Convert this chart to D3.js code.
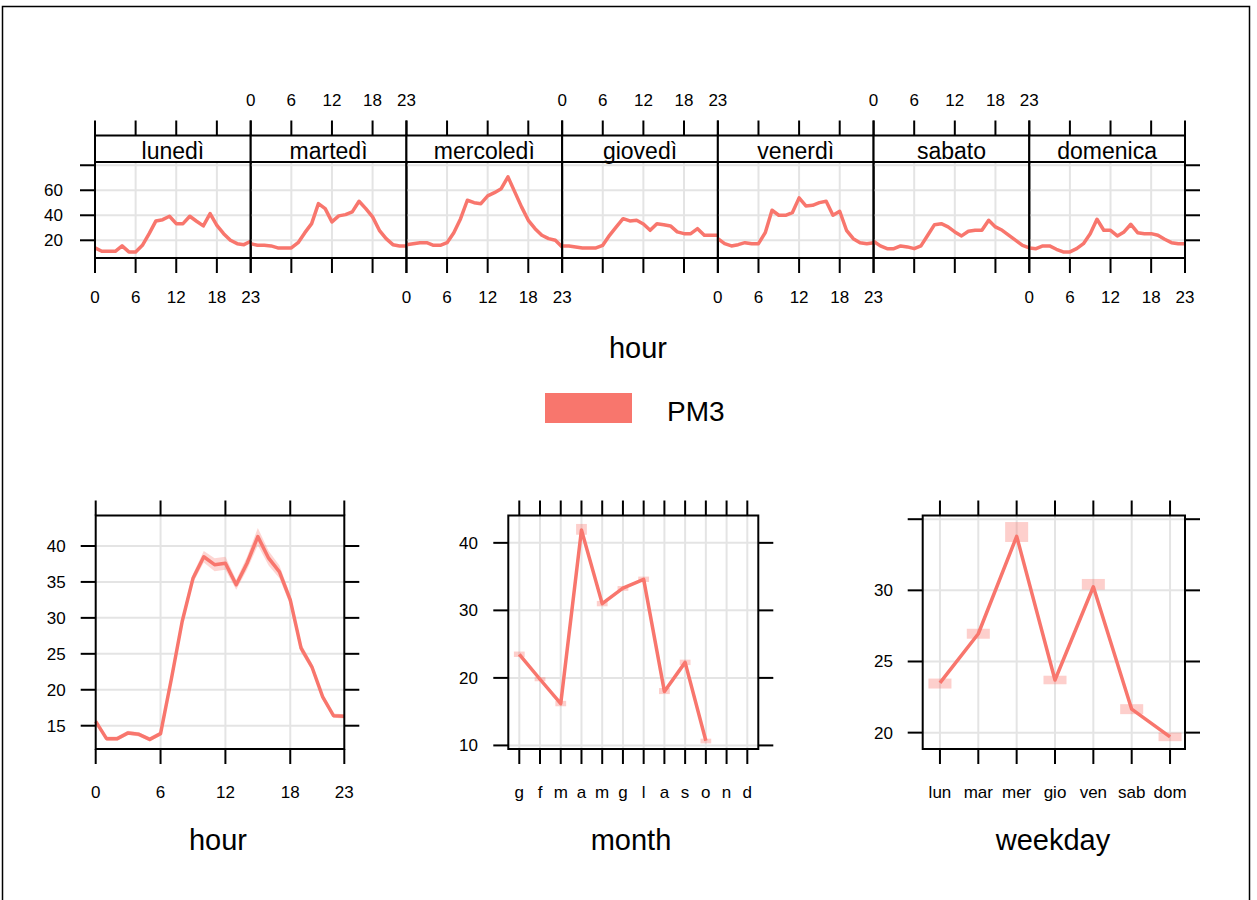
<!DOCTYPE html>
<html>
<head>
<meta charset="utf-8">
<script src="https://cdn.jsdelivr.net/npm/d3@7/dist/d3.min.js"></script>
<style>
  body { margin: 0; background: #fff; }
  text { font-family: "Liberation Sans", Arial, sans-serif; fill: #000; }
</style>
</head>
<body>
<svg id="chart" width="1257" height="900"></svg>
<script>
// ---- data ----
const hours = [0, 1, 2, 3, 4, 5, 6, 7, 8, 9, 10, 11, 12, 13, 14, 15, 16, 17, 18, 19, 20, 21, 22, 23];
const hourTicks = [0, 6, 12, 18, 23];
const dayNames = ['lunedì', 'martedì', 'mercoledì', 'giovedì', 'venerdì', 'sabato', 'domenica'];

const lunedi = [13.9, 11.2, 11.2, 11.2, 15.5, 10.7, 10.7, 16, 25.3, 35.5, 36.5, 39.2, 33.3, 33.3, 39.2, 35.2, 31.5, 41.3, 32, 25.3, 20, 17.3, 16.5, 19.2];
const martedi = [17.3, 16, 16, 15.5, 13.9, 13.9, 13.9, 18.1, 26.1, 33.3, 49.3, 45.3, 34.7, 39.5, 40.5, 42.7, 51.2, 45.3, 38.7, 28, 21.3, 16.5, 15.5, 15.5];
const mercoledi = [16.5, 17.3, 18.1, 18.1, 16, 16, 18.1, 26.1, 37.3, 52, 50.1, 49.3, 55.5, 58.1, 61.3, 70.7, 58.7, 46.7, 36, 29.3, 24, 21.3, 20, 14.7];
const giovedi = [15.5, 15.5, 14.7, 13.9, 13.9, 13.9, 16, 24, 30.7, 37.3, 35.5, 36, 33, 28, 33.3, 32.5, 31.5, 26.7, 25.3, 25.3, 29.3, 24, 24, 24];
const venerdi = [21.3, 17.3, 15.5, 16.5, 18.1, 17.3, 17.3, 26.1, 44, 40, 40, 42.1, 53.9, 47.5, 48, 50.1, 51.2, 40, 43.2, 28, 21.3, 18.1, 17.3, 18.1];
const sabato = [19.2, 15.5, 13.3, 13.3, 15.5, 14.7, 13.3, 15.5, 24, 32.5, 33.3, 30.7, 26.7, 23.5, 27.2, 28, 28, 36, 30.7, 28, 24, 20, 16, 13.9];
const domenica = [13.9, 13.3, 15.5, 15.5, 12.8, 10.7, 10.7, 13.3, 17.3, 25.3, 36.8, 28, 28, 23.5, 26.7, 32.8, 26.1, 25.3, 25.3, 24, 20.8, 18.1, 17.3, 17.3];
const dayValues = [lunedi, martedi, mercoledi, giovedi, venerdi, sabato, domenica];
const dayYTicks = [20, 40, 60, 80];
const dayYLabels = ['20', '40', '60', ''];

const hourMean = [15.6, 13.2, 13.2, 14.0, 13.8, 13.1, 13.9, 21.5, 29.5, 35.5, 38.5, 37.4, 37.6, 34.6, 37.6, 41.3, 38.3, 36.4, 32.5, 25.8, 23.2, 19.0, 16.4, 16.3];
const hourCI = [0.4, 0.3, 0.3, 0.3, 0.3, 0.3, 0.3, 0.4, 0.5, 0.6, 0.8, 0.9, 0.9, 0.7, 0.9, 1.2, 1.0, 0.9, 0.7, 0.6, 0.5, 0.4, 0.3, 0.3];
const hourYTicks = [15, 20, 25, 30, 35, 40];

const monthLabels = ['g', 'f', 'm', 'a', 'm', 'g', 'l', 'a', 's', 'o', 'n', 'd'];
const monthMean = [23.5, 19.8, 16.2, 41.9, 31.0, 33.3, 34.6, 18.0, 22.3, 10.7, null, null];
const monthLower = [23.1, 19.5, 15.8, 41.2, 30.6, 32.9, 34.2, 17.6, 21.9, 10.3, null, null];
const monthUpper = [23.9, 20.1, 16.6, 42.8, 31.4, 33.6, 35.0, 18.5, 22.7, 11.0, null, null];
const monthYTicks = [10, 20, 30, 40];

const weekdayLabels = ['lun', 'mar', 'mer', 'gio', 'ven', 'sab', 'dom'];
const weekdayMean = [23.5, 26.95, 33.8, 23.7, 30.25, 21.65, 19.7];
const weekdayLower = [23.1, 26.6, 33.4, 23.4, 30.05, 21.3, 19.4];
const weekdayUpper = [23.8, 27.3, 34.8, 24.0, 30.8, 22.0, 20.0];
const weekdayYTicks = [20, 25, 30, 35];
const weekdayYLabels = ['20', '25', '30', ''];

const seriesName = 'PM3';
const colour = '#F8766D';

// ---- drawing ----
const svg = d3.select('#chart');
const TICK = 15;
const GRID = '#e4e4e4';
const LINE_W = 3.5;

svg.append('rect')
  .attr('x', 2.5).attr('y', 6.5)
  .attr('width', 1247).attr('height', 900)
  .attr('fill', 'none').attr('stroke', '#000').attr('stroke-width', 1.5);

function grid(g, xs, ys, xVals, yVals) {
  const [x0, x1] = xs.range();
  const [y0, y1] = ys.range();
  g.selectAll(null).data(xVals).enter().append('line')
    .attr('x1', d => xs(d)).attr('x2', d => xs(d))
    .attr('y1', y0).attr('y2', y1)
    .attr('stroke', GRID).attr('stroke-width', 2);
  g.selectAll(null).data(yVals).enter().append('line')
    .attr('x1', x0).attr('x2', x1)
    .attr('y1', d => ys(d)).attr('y2', d => ys(d))
    .attr('stroke', GRID).attr('stroke-width', 2);
}

function xTicks(g, xs, vals, y, dir) {
  g.selectAll(null).data(vals).enter().append('line')
    .attr('x1', d => xs(d)).attr('x2', d => xs(d))
    .attr('y1', y).attr('y2', y + dir * TICK)
    .attr('stroke', '#000').attr('stroke-width', 2);
}

function yTicks(g, ys, vals, x, dir) {
  g.selectAll(null).data(vals).enter().append('line')
    .attr('x1', x).attr('x2', x + dir * TICK)
    .attr('y1', d => ys(d)).attr('y2', d => ys(d))
    .attr('stroke', '#000').attr('stroke-width', 2);
}

function xLabels(g, xs, vals, labels, y) {
  g.selectAll(null).data(vals).enter().append('text')
    .attr('x', d => xs(d)).attr('y', y)
    .attr('text-anchor', 'middle').attr('font-size', 17)
    .text((d, i) => labels[i]);
}

function yLabels(g, ys, vals, labels, x) {
  g.selectAll(null).data(vals).enter().append('text')
    .attr('x', x).attr('y', d => ys(d) + 6)
    .attr('text-anchor', 'end').attr('font-size', 17)
    .text((d, i) => labels[i]);
}

function frame(g, xs, ys) {
  const [x0, x1] = xs.range();
  const [y0, y1] = ys.range();
  g.append('rect')
    .attr('x', x0).attr('y', y1)
    .attr('width', x1 - x0).attr('height', y0 - y1)
    .attr('fill', 'none').attr('stroke', '#000').attr('stroke-width', 2);
}

// top: hour by weekday
const topG = svg.append('g');
const stripLeft = 95, stripRight = 1185;
const panelW = (stripRight - stripLeft) / dayNames.length;
const dayY = d3.scaleLinear().domain([5.84, 82.6]).range([258, 162]);

dayNames.forEach((name, i) => {
  const x0 = stripLeft + i * panelW;
  const xs = d3.scaleLinear().domain([0, 23]).range([x0, x0 + panelW]);
  const g = topG.append('g');
  grid(g, xs, dayY, [6, 12, 18], dayYTicks);

  g.append('path')
    .datum(dayValues[i])
    .attr('fill', 'none').attr('stroke', colour).attr('stroke-width', LINE_W)
    .attr('stroke-linejoin', 'round')
    .attr('d', d3.line().x((d, j) => xs(hours[j])).y(d => dayY(d)));

  frame(g, xs, dayY);

  // strip
  g.append('rect')
    .attr('x', x0).attr('y', 135.5)
    .attr('width', panelW).attr('height', 26.5)
    .attr('fill', '#fff').attr('stroke', '#000').attr('stroke-width', 2);
  g.append('text')
    .attr('x', x0 + panelW / 2).attr('y', 158.5)
    .attr('text-anchor', 'middle').attr('font-size', 23)
    .text(name);

  xTicks(g, xs, hourTicks, 135.5, -1);
  xTicks(g, xs, hourTicks, 258, 1);
  if (i % 2 === 0) xLabels(g, xs, hourTicks, hourTicks.map(String), 303);
  else xLabels(g, xs, hourTicks, hourTicks.map(String), 106);

  if (i === 0) {
    yTicks(g, dayY, dayYTicks, x0, -1);
    yLabels(g, dayY, dayYTicks, dayYLabels, 63);
  }
  if (i === dayNames.length - 1) yTicks(g, dayY, dayYTicks, x0 + panelW, 1);
});

topG.append('text')
  .attr('x', 638).attr('y', 358)
  .attr('text-anchor', 'middle').attr('font-size', 29)
  .text('hour');

// legend
svg.append('rect')
  .attr('x', 545).attr('y', 393).attr('width', 87).attr('height', 30)
  .attr('fill', colour);
svg.append('text')
  .attr('x', 667).attr('y', 421).attr('font-size', 28)
  .text(seriesName);

// bottom panels
const bottomY = [749, 515.5];

// hour
{
  const g = svg.append('g');
  const xs = d3.scaleLinear().domain([0, 23]).range([95.7, 344.3]);
  const ys = d3.scaleLinear().domain([11.76, 44.24]).range(bottomY);
  grid(g, xs, ys, [6, 12, 18], hourYTicks);
  g.append('path')
    .datum(hourMean)
    .attr('fill', colour).attr('fill-opacity', 0.3)
    .attr('d', d3.area()
      .x((d, j) => xs(hours[j]))
      .y0((d, j) => ys(d - hourCI[j]))
      .y1((d, j) => ys(d + hourCI[j])));
  g.append('path')
    .datum(hourMean)
    .attr('fill', 'none').attr('stroke', colour).attr('stroke-width', LINE_W)
    .attr('stroke-linejoin', 'round')
    .attr('d', d3.line().x((d, j) => xs(hours[j])).y(d => ys(d)));
  frame(g, xs, ys);
  xTicks(g, xs, hourTicks, 749, 1);
  xTicks(g, xs, hourTicks, 515.5, -1);
  yTicks(g, ys, hourYTicks, 95.7, -1);
  yTicks(g, ys, hourYTicks, 344.3, 1);
  xLabels(g, xs, hourTicks, hourTicks.map(String), 798);
  yLabels(g, ys, hourYTicks, hourYTicks.map(String), 65.7);
  g.append('text')
    .attr('x', 218).attr('y', 850)
    .attr('text-anchor', 'middle').attr('font-size', 29)
    .text('hour');
}

// month
{
  const g = svg.append('g');
  const idx = monthLabels.map((d, i) => i + 1);
  const xs = d3.scaleLinear().domain([0.47, 12.53]).range([508.3, 758.3]);
  const ys = d3.scaleLinear().domain([9.47, 44.05]).range(bottomY);
  grid(g, xs, ys, idx, monthYTicks);
  g.selectAll(null).data(idx.filter((d, i) => monthMean[i] !== null)).enter().append('rect')
    .attr('x', d => xs(d - 0.26))
    .attr('width', d => xs(d + 0.26) - xs(d - 0.26))
    .attr('y', d => ys(monthUpper[d - 1]))
    .attr('height', d => ys(monthLower[d - 1]) - ys(monthUpper[d - 1]))
    .attr('fill', colour).attr('fill-opacity', 0.35);
  g.append('path')
    .datum(monthMean)
    .attr('fill', 'none').attr('stroke', colour).attr('stroke-width', LINE_W)
    .attr('stroke-linejoin', 'round')
    .attr('d', d3.line().defined(d => d !== null).x((d, j) => xs(idx[j])).y(d => ys(d)));
  frame(g, xs, ys);
  xTicks(g, xs, idx, 749, 1);
  xTicks(g, xs, idx, 515.5, -1);
  yTicks(g, ys, monthYTicks, 508.3, -1);
  yTicks(g, ys, monthYTicks, 758.3, 1);
  xLabels(g, xs, idx, monthLabels, 798);
  yLabels(g, ys, monthYTicks, monthYTicks.map(String), 478);
  g.append('text')
    .attr('x', 631).attr('y', 850)
    .attr('text-anchor', 'middle').attr('font-size', 29)
    .text('month');
}

// weekday
{
  const g = svg.append('g');
  const idx = weekdayLabels.map((d, i) => i + 1);
  const xs = d3.scaleLinear().domain([0.55, 7.39]).range([922.7, 1185]);
  const ys = d3.scaleLinear().domain([18.85, 35.26]).range(bottomY);
  grid(g, xs, ys, idx, weekdayYTicks);
  g.selectAll(null).data(idx).enter().append('rect')
    .attr('x', d => xs(d - 0.3))
    .attr('width', d => xs(d + 0.3) - xs(d - 0.3))
    .attr('y', d => ys(weekdayUpper[d - 1]))
    .attr('height', d => ys(weekdayLower[d - 1]) - ys(weekdayUpper[d - 1]))
    .attr('fill', colour).attr('fill-opacity', 0.35);
  g.append('path')
    .datum(weekdayMean)
    .attr('fill', 'none').attr('stroke', colour).attr('stroke-width', LINE_W)
    .attr('stroke-linejoin', 'round')
    .attr('d', d3.line().x((d, j) => xs(idx[j])).y(d => ys(d)));
  frame(g, xs, ys);
  xTicks(g, xs, idx, 749, 1);
  xTicks(g, xs, idx, 515.5, -1);
  yTicks(g, ys, weekdayYTicks, 922.7, -1);
  yTicks(g, ys, weekdayYTicks, 1185, 1);
  xLabels(g, xs, idx, weekdayLabels, 798);
  yLabels(g, ys, weekdayYTicks, weekdayYLabels, 893);
  g.append('text')
    .attr('x', 1053).attr('y', 850)
    .attr('text-anchor', 'middle').attr('font-size', 29)
    .text('weekday');
}
</script>
</body>
</html>
